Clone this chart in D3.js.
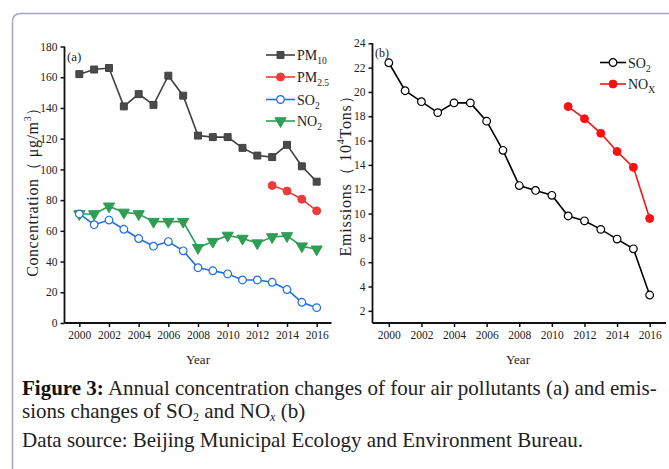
<!DOCTYPE html>
<html>
<head>
<meta charset="utf-8">
<script src="https://cdn.jsdelivr.net/npm/d3@7/dist/d3.min.js"></script>
<style>
  html, body { margin: 0; padding: 0; background: #fff; }
  svg { display: block; }
  svg text { font-family: "Liberation Serif", "Times New Roman", serif; fill: #222; }
</style>
</head>
<body>
<svg id="fig" width="669" height="469" font-family="Liberation Serif, serif"></svg>
<script>
// Annual mean concentrations in Beijing (µg/m³)
const years = [2000, 2001, 2002, 2003, 2004, 2005, 2006, 2007, 2008, 2009, 2010, 2011, 2012, 2013, 2014, 2015, 2016];
const pm10 = [162, 165, 166, 141, 149, 142, 161, 148, 122, 121, 121, 114, 109, 108, 116, 102, 92];
const pm25Years = [2013, 2014, 2015, 2016];
const pm25 = [89.5, 85.9, 80.6, 73];
const so2Conc = [71, 64, 67, 61, 55, 50, 53, 47, 36, 34, 32, 28, 28, 26.5, 21.8, 13.5, 10];
const no2Conc = [71, 71, 76, 72, 71, 66, 66, 66, 49, 53, 57, 55, 52, 56, 56.7, 50, 48];

// Annual emissions (10^4 tons)
const so2Emis = [22.4, 20.1, 19.2, 18.3, 19.1, 19.1, 17.6, 15.2, 12.3, 11.9, 11.5, 9.8, 9.4, 8.7, 7.9, 7.1, 3.3];
const noxYears = [2011, 2012, 2013, 2014, 2015, 2016];
const noxEmis = [18.8, 17.8, 16.6, 15.1, 13.8, 9.6];

// Tick labels
const yearTicks = [2000, 2002, 2004, 2006, 2008, 2010, 2012, 2014, 2016];
const concTicks = [0, 20, 40, 60, 80, 100, 120, 140, 160, 180];
const emisTicks = [2, 4, 6, 8, 10, 12, 14, 16, 18, 20, 22, 24];

const SERIF = "'Liberation Serif', 'Times New Roman', serif";
const svg = d3.select("#fig");

// Frame around the figure
svg.append("path")
  .attr("d", "M12.5,480 L12.5,22 Q12.5,13.5 21,13.5 L680,13.5")
  .attr("fill", "none").attr("stroke", "#a3a3cc").attr("stroke-width", 1.5);

function zip(xs, ys) { return xs.map((x, i) => [x, ys[i]]); }

function drawAxes(g, x, y, yTicks, cfg) {
  const xAxis = g.append("g")
    .attr("transform", `translate(0,${cfg.y0})`)
    .call(d3.axisBottom(x).tickValues(yearTicks).tickFormat(d3.format("d")).tickSize(4).tickPadding(4));
  const yAxis = g.append("g")
    .attr("transform", `translate(${cfg.x0},0)`)
    .call(d3.axisLeft(y).tickValues(yTicks).tickSize(4).tickPadding(3));
  [xAxis, yAxis].forEach(a => {
    a.attr("font-family", SERIF);
    a.select(".domain").attr("stroke", "#111").attr("stroke-width", 1.8);
    a.selectAll(".tick line").attr("stroke", "#111").attr("stroke-width", 1.5);
    a.selectAll(".tick text").attr("font-size", 11.5).attr("fill", "#222")
      .style("font-family", SERIF);
  });
  // axis lines only span the data range, no outer ticks
  xAxis.select(".domain").attr("d", `M${x.range()[0]},0H${x.range()[1]}`);
  yAxis.select(".domain").attr("d", `M0,${y.range()[0]}V${y.range()[1]}`);
}

function series(g, x, y, data, opt) {
  const line = d3.line().x(d => x(d[0])).y(d => y(d[1]));
  g.append("path").datum(data)
    .attr("d", line).attr("fill", "none")
    .attr("stroke", opt.color).attr("stroke-width", 1.6);
  const sym = d3.symbol().type(opt.symbol).size(opt.size);
  g.selectAll(null).data(data).join("path")
    .attr("d", sym)
    .attr("transform", d => `translate(${x(d[0])},${y(d[1])})${opt.rotate ? " rotate(180)" : ""}`)
    .attr("fill", opt.fill).attr("stroke", opt.color).attr("stroke-width", opt.sw || 1);
}

function legendItem(g, lx, ly, len, opt, label, sub) {
  g.append("line").attr("x1", lx).attr("x2", lx + len).attr("y1", ly).attr("y2", ly)
    .attr("stroke", opt.color).attr("stroke-width", 1.6);
  g.append("path").attr("d", d3.symbol().type(opt.symbol).size(opt.size))
    .attr("transform", `translate(${lx + len / 2},${ly})${opt.rotate ? " rotate(180)" : ""}`)
    .attr("fill", opt.fill).attr("stroke", opt.color).attr("stroke-width", opt.sw || 1);
  const t = g.append("text").attr("x", lx + len + 2).attr("y", ly + 5).attr("font-size", 14)
    .style("font-family", SERIF);
  t.append("tspan").text(label);
  t.append("tspan").attr("font-size", 9.5).attr("dy", 4).text(sub);
}

// ---- Panel (a): concentrations ----
const ga = svg.append("g");
const xa = d3.scaleLinear().domain([1999, 2017]).range([64.5, 331.5]);
const ya = d3.scaleLinear().domain([0, 180]).range([323, 46.5]);
drawAxes(ga, xa, ya, concTicks, { x0: 64.5, y0: 323 });

const stPM10 = { color: "#3f3f3f", fill: "#4a4a4a", symbol: d3.symbolSquare, size: 48 };
const stPM25 = { color: "#f03a3a", fill: "#f03a3a", symbol: d3.symbolCircle, size: 50 };
const stSO2 = { color: "#1e6fe0", fill: "#ffffff", symbol: d3.symbolCircle, size: 46, sw: 1.2 };
const stNO2 = { color: "#2f9e55", fill: "#2f9e55", symbol: d3.symbolTriangle, size: 55, rotate: true };

series(ga, xa, ya, zip(years, no2Conc), stNO2);
series(ga, xa, ya, zip(years, so2Conc), stSO2);
series(ga, xa, ya, zip(years, pm10), stPM10);
series(ga, xa, ya, zip(pm25Years, pm25), stPM25);

legendItem(ga, 266, 55, 29, stPM10, "PM", "10");
legendItem(ga, 266, 77, 29, stPM25, "PM", "2.5");
legendItem(ga, 266, 99.5, 29, stSO2, "SO", "2");
legendItem(ga, 266, 121, 29, stNO2, "NO", "2");

ga.append("text").attr("x", 67).attr("y", 61).attr("font-size", 13).style("font-family", SERIF).text("(a)");
ga.append("text").attr("x", 198).attr("y", 364).attr("font-size", 13).attr("text-anchor", "middle")
  .style("font-family", SERIF).text("Year");

const ta = ga.append("text").attr("transform", "translate(38,188) rotate(-90)")
  .attr("text-anchor", "middle").attr("font-size", 16).attr("letter-spacing", 0.6)
  .style("font-family", SERIF);
ta.append("tspan").text("Concentration（ μg/m");
ta.append("tspan").attr("font-size", 10).attr("dy", -7).text("3");
ta.append("tspan").attr("dy", 7).text("）");

// ---- Panel (b): emissions ----
const gb = svg.append("g");
const xb = d3.scaleLinear().domain([1999, 2017]).range([372.5, 666]);
const yb = d3.scaleLinear().domain([1, 24]).range([323, 43.3]);
drawAxes(gb, xb, yb, emisTicks, { x0: 372.5, y0: 323 });

const stSO2e = { color: "#000000", fill: "#ffffff", symbol: d3.symbolCircle, size: 46, sw: 1.2 };
const stNOx = { color: "#ff1010", fill: "#ff1010", symbol: d3.symbolCircle, size: 50 };

series(gb, xb, yb, zip(years, so2Emis), stSO2e);
series(gb, xb, yb, zip(noxYears, noxEmis), stNOx);

legendItem(gb, 600, 62.5, 26, stSO2e, "SO", "2");
legendItem(gb, 600, 84, 26, stNOx, "NO", "X");

gb.append("text").attr("x", 375).attr("y", 57).attr("font-size", 12).style("font-family", SERIF).text("(b)");
gb.append("text").attr("x", 518).attr("y", 364).attr("font-size", 13).attr("text-anchor", "middle")
  .style("font-family", SERIF).text("Year");

const tb = gb.append("text").attr("transform", "translate(351,172) rotate(-90)")
  .attr("text-anchor", "middle").attr("font-size", 16).attr("letter-spacing", 0.8)
  .style("font-family", SERIF);
tb.append("tspan").text("Emissions（ 10");
tb.append("tspan").attr("font-size", 10).attr("dy", -7).text("4");
tb.append("tspan").attr("dy", 7).text("Tons）");

// ---- Caption ----
const capSize = 21;
const c1 = svg.append("text").attr("x", 22).attr("y", 395).attr("font-size", capSize).style("font-family", SERIF);
c1.append("tspan").attr("font-weight", "bold").style("fill", "#111").text("Figure 3:");
c1.append("tspan").text(" Annual concentration changes of four air pollutants (a) and emis-");
const c2 = svg.append("text").attr("x", 22).attr("y", 418).attr("font-size", capSize).style("font-family", SERIF);
c2.append("tspan").text("sions changes of SO");
c2.append("tspan").attr("font-size", 12).attr("dy", 3).text("2");
c2.append("tspan").attr("dy", -3).text(" and NO");
c2.append("tspan").attr("font-size", 12).attr("dy", 3).attr("font-style", "italic").text("x");
c2.append("tspan").attr("dy", -3).text(" (b)");
svg.append("text").attr("x", 22).attr("y", 447).attr("font-size", capSize).style("font-family", SERIF)
  .text("Data source: Beijing Municipal Ecology and Environment Bureau.");
</script>
</body>
</html>
